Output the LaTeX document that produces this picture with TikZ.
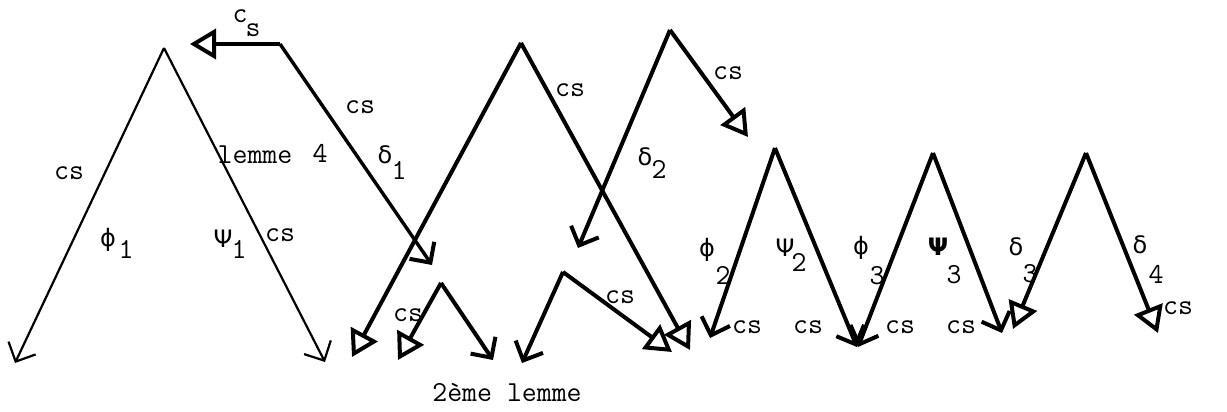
\documentclass[tikz,border=0pt]{standalone}
\usepackage{fontspec}
\newfontfamily\grfont{DejaVu Sans}
\usetikzlibrary{arrows.meta}
\begin{document}
\begin{tikzpicture}[x=1pt,y=-1pt,
  thin arrow/.style={line width=2.2pt,-{Straight Barb[length=15pt,width=30pt,line width=2.2pt]}},
  thick v/.style={line width=4pt,-{Straight Barb[length=15pt,width=30pt,line width=4pt]}},
  thick tri/.style={line width=4pt,-{Triangle[open,length=26pt,width=30pt,line width=4pt]}},
  lab/.style={inner sep=0pt,font=\ttfamily\fontsize{29}{29}\selectfont},
  sub/.style={inner sep=0pt,font=\ttfamily\fontsize{29}{29}\selectfont},
  gr/.style={inner sep=0pt,font=\grfont\fontsize{24}{24}\selectfont}]
\useasboundingbox (0,0) rectangle (1227,412);
% coordinates
\coordinate (a1) at (164,48);
\coordinate (a1L) at (15,363);
\coordinate (a1R) at (325,362);
\coordinate (p) at (280,44);
\coordinate (ptip) at (190,44);
\coordinate (pd) at (432,265);
\coordinate (a2) at (521,43);
\coordinate (a2L) at (352,357);
\coordinate (a2R) at (690,350);
\coordinate (a3) at (670,30);
\coordinate (a3L) at (578,248);
\coordinate (a3R) at (748,137);
\coordinate (s1) at (441,283);
\coordinate (s1L) at (398,360);
\coordinate (s1R) at (493,360);
\coordinate (s2) at (563,272);
\coordinate (s2L) at (522,363);
\coordinate (s2R) at (672,352);
\coordinate (b1) at (775,148);
\coordinate (b1L) at (710,338);
\coordinate (b1R) at (857,347);
\coordinate (b2) at (933,153);
\coordinate (b2L) at (858,347);
\coordinate (b2R) at (1002,333);
\coordinate (b3) at (1086,153);
\coordinate (b3L) at (1013,329);
\coordinate (b3R) at (1158,333);
% connectors
\draw[thin arrow] (a1) -- (a1L);
\draw[thin arrow] (a1) -- (a1R);
\draw[thick tri,line width=3.4pt] (p) -- (ptip);
\draw[thick v,line width=3.4pt] (p) -- (pd);
\draw[thick tri] (a2) -- (a2L);
\draw[thick tri] (a2) -- (a2R);
\draw[thick v] (a3) -- (a3L);
\draw[thick tri] (a3) -- (a3R);
\draw[thick tri] (s1) -- (s1L);
\draw[thick v] (s1) -- (s1R);
\draw[thick v] (s2) -- (s2L);
\draw[thick tri] (s2) -- (s2R);
\draw[thick v] (b1) -- (b1L);
\draw[thick v] (b1) -- (b1R);
\draw[thick v] (b2) -- (b2L);
\draw[thick v] (b2) -- (b2R);
\draw[thick tri] (b3) -- (b3L);
\draw[thick tri] (b3) -- (b3R);
% labels
\node[lab] (l1) at (240,16) {c};
\node[sub] (l2) at (253,30) {s};
\node[lab] (l3) at (360,107) {cs};
\node[lab] (l4) at (255,155) {lemme};
\node[lab] (l5) at (320,153) {4};
\node[gr] (l6) at (385,155) {δ};
\node[sub] (l7) at (399,170) {1};
\node[lab] (l8) at (69,173) {cs};
\node[gr] (l9) at (108,240) {ϕ};
\node[sub] (l10) at (126,249) {1};
\node[gr] (l11) at (223,239) {Ψ};
\node[sub] (l12) at (239,249) {1};
\node[lab] (l13) at (280,235) {cs};
\node[lab] (l14) at (570,90) {cs};
\node[lab] (l15) at (728,73) {cs};
\node[gr] (l16) at (645,157) {δ};
\node[sub] (l17) at (659,169) {2};
\node[lab] (l18) at (408,315) {cs};
\node[lab] (l19) at (620,297) {cs};
\node[lab] (l20) at (507,393) {2ème lemme};
\node[gr] (l21) at (707,250) {ϕ};
\node[sub] (l22) at (723,275) {2};
\node[lab] (l23) at (747,327) {cs};
\node[gr] (l24) at (785,248) {Ψ};
\node[sub] (l25) at (799,262) {2};
\node[lab] (l26) at (808,327) {cs};
\node[gr] (l27) at (861,248) {ϕ};
\node[sub] (l28) at (877,276) {3};
\node[gr] (l29) at (938,247) {\bfseries Ψ};
\node[sub] (l30) at (954,275) {3};
\node[lab] (l31) at (900,327) {cs};
\node[lab] (l32) at (961,327) {cs};
\node[gr] (l33) at (1016,247) {δ};
\node[sub] (l34) at (1030,274) {3};
\node[gr] (l35) at (1140,245) {δ};
\node[sub] (l36) at (1156,274) {4};
\node[lab] (l37) at (1178,308) {cs};
\end{tikzpicture}
\end{document}
